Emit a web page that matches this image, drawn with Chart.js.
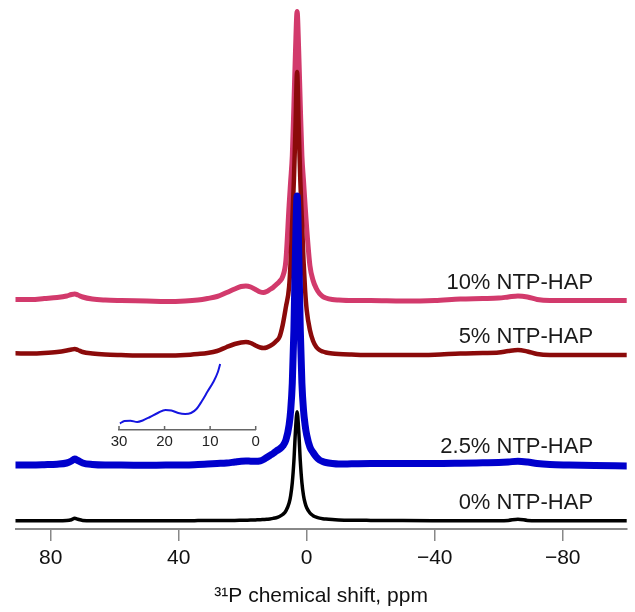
<!DOCTYPE html>
<html><head><meta charset="utf-8">
<script src="https://cdn.jsdelivr.net/npm/chart.js@4.4.1/dist/chart.umd.min.js"></script>
<style>
html,body{margin:0;padding:0;background:#fff;}
#wrap{position:relative;width:635px;height:612px;background:#fff;}
#main{position:absolute;left:0;top:0;}
#inset{position:absolute;left:95px;top:345px;}
</style></head><body>
<div id="wrap"><canvas id="main" width="635" height="612"></canvas><canvas id="inset" width="180" height="110"></canvas></div>
<script>
// chemical shift grid (ppm)
const ppm = [91, 86, 82, 78, 75, 73.5, 72.5, 71.5, 70, 67, 63, 58, 50, 44, 38, 34, 31, 28, 25, 22.5, 20.5, 19, 17.5, 16, 14.5, 13.5, 12.5, 11.5, 10.5, 9.5, 8.5, 7.5, 6.5, 5.5, 5, 4.5, 4, 3.5, 3, 2.5, 2, 1.5, 1, 0.5, 0, -1, -2, -3, -4, -5, -6, -8, -10, -14, -20, -30, -40, -48, -55, -60, -63, -66, -69, -72, -76, -82, -90, -100];
// intensities (above each trace's own baseline)
const hap0 = [0, 0, 0, 0, 0.2, 1.0, 2.4, 1.4, 0.3, 0, 0, 0, 0, 0, 0, 0.1, 0.2, 0.2, 0.3, 0.3, 0.4, 0.5, 0.6, 0.8, 1.0, 1.2, 1.4, 1.8, 2.3, 3.0, 4.2, 6.2, 9.8, 17.7, 25.3, 38.1, 59.7, 90.3, 109, 90.3, 59.7, 38.1, 25.3, 17.7, 12.9, 7.7, 5.0, 3.5, 2.6, 2.0, 1.6, 1.1, 0.8, 0.5, 0.3, 0.1, 0, 0, 0, 0, 0.3, 1.5, 0.3, 0, 0, 0, 0, 0];
const hap2_5 = [0, 0, 0.3, 0.8, 2, 4, 6, 4.5, 2, 0.5, 0, 0, -0.3, 0, 0, 0.5, 1, 1.5, 2, 3, 3.8, 4, 3.8, 3.7, 4.2, 5.5, 7.5, 9.5, 11.5, 14, 16, 19, 25, 40, 55, 82, 135, 215, 269, 215, 135, 82, 55, 40, 30, 18, 12.5, 8, 5, 3.5, 2.5, 1.5, 1, 1.2, 1.5, 1.5, 1.5, 1.8, 2.2, 2.5, 3, 3.8, 3, 1.5, 0.5, 0, -0.5, -1];
const hap5 = [1.7, 1.5, 2, 3, 4.5, 5.5, 6, 5, 3, 1.5, 0.5, 0, -0.5, -0.5, 0, 1, 2, 4, 8, 11, 12.5, 13, 12, 9.5, 7.5, 7, 7.5, 9, 11, 14, 18, 30, 48, 68, 95, 135, 175, 228, 283, 228, 175, 135, 95, 65, 45, 25, 14, 8, 5, 3.5, 2.5, 1.5, 1, 0.5, 0, 0, 0.3, 1.5, 2, 2.5, 4, 5, 3.5, 1, 0, 0, 0, 0];
const hap10 = [1, 1, 2, 3, 4.5, 6, 6.5, 5.5, 3.5, 1.5, 0.5, 0, -0.5, -1, -0.5, 0.5, 2, 4, 8, 11.5, 14, 14.5, 13.5, 11, 8.5, 8, 9, 11, 13, 16, 19, 24, 40, 95, 120, 145, 195, 250, 289, 250, 195, 145, 120, 95, 72, 35, 20, 12, 7, 4, 2.5, 1, 0.5, 0, 0, -0.5, 0, 1.5, 2, 2.5, 3.5, 4.5, 3.5, 1, 0, 0, 0, 0];
const traceOffsets = [0, 55.7, 165.7, 220.2];
const seriesLabels = ['0% NTP-HAP', '2.5% NTP-HAP', '5% NTP-HAP', '10% NTP-HAP'];
const seriesColors = ['#000000', '#0000CC', '#8B0A0A', '#D23A6C'];
const xTickValues = [80, 40, 0, -40, -80];
// inset: magnified 2.5% trace, 30-8 ppm
const insetPpm = [29.8, 28.8, 27.5, 26, 24.8, 23.2, 21.5, 19.8, 18.5, 17, 15.5, 14.2, 13, 11.8, 10.5, 9.3, 8.3, 7.8];
const insetVals = [6.5, 9, 9.3, 8, 9.5, 13, 17, 20, 19.5, 17, 16, 17, 21, 29, 39, 48, 58, 66];
const insetTickValues = [30, 20, 10, 0];

const FONT = '"Liberation Sans", Arial, Helvetica, sans-serif';
const traces = [hap0, hap2_5, hap5, hap10];
const widths = [3.5, 7, 4.5, 5];

const datasets = traces.map((arr, i) => ({
  label: seriesLabels[i],
  data: ppm.map((p, k) => ({x: p, y: arr[k] + traceOffsets[i]})),
  borderColor: seriesColors[i],
  borderWidth: widths[i],
  pointRadius: 0,
  fill: false,
  cubicInterpolationMode: 'monotone',
  borderJoinStyle: 'round',
  borderCapStyle: 'round'
}));

const labelPlugin = {
  id: 'traceLabels',
  afterDatasetsDraw(chart) {
    const {ctx, scales: {x, y}} = chart;
    ctx.save();
    ctx.font = '22px ' + FONT;
    ctx.fillStyle = '#1a1a1a';
    ctx.textAlign = 'right';
    ctx.textBaseline = 'alphabetic';
    seriesLabels.forEach((t, i) => {
      ctx.fillText(t, x.getPixelForValue(-89.5), y.getPixelForValue(traceOffsets[i] + 12));
    });
    ctx.restore();
  }
};

new Chart(document.getElementById('main'), {
  type: 'line',
  data: {datasets},
  plugins: [labelPlugin],
  options: {
    responsive: false,
    animation: false,
    devicePixelRatio: 1,
    layout: {padding: {left: 15.5, right: 8.3, top: 0, bottom: 0}},
    plugins: {legend: {display: false}, tooltip: {enabled: false}},
    scales: {
      x: {
        type: 'linear', min: -100, max: 91, reverse: true,
        afterBuildTicks: s => { s.ticks = xTickValues.map(v => ({value: v})); },
        afterFit: s => { s.height = 83; },
        grid: {drawOnChartArea: false, drawTicks: true, tickLength: 12, color: '#888', lineWidth: 1.5},
        border: {display: true, color: '#888', width: 2},
        ticks: {padding: 5, color: '#111', font: {family: FONT, size: 21},
                callback: v => String(v).replace('-', '\u2212'), maxRotation: 0},
        title: {display: true, text: '\u00B3\u00B9P chemical shift, ppm', color: '#111',
                font: {family: FONT, size: 21}, padding: {top: 4, bottom: 3}}
      },
      y: {type: 'linear', display: false, min: -8.3, max: 520.7}
    }
  }
});

const insetTickPlugin = {
  id: 'insetTicks',
  afterDraw(chart) {
    const {ctx, scales: {x}, chartArea} = chart;
    ctx.save();
    ctx.strokeStyle = '#666';
    ctx.lineWidth = 1.5;
    insetTickValues.forEach(v => {
      const px = x.getPixelForValue(v);
      ctx.beginPath();
      ctx.moveTo(px, chartArea.bottom);
      ctx.lineTo(px, chartArea.bottom - 4);
      ctx.stroke();
    });
    ctx.restore();
  }
};

new Chart(document.getElementById('inset'), {
  type: 'line',
  data: {datasets: [{
    data: insetPpm.map((p, k) => ({x: p, y: insetVals[k]})),
    borderColor: '#1515E0', borderWidth: 2, pointRadius: 0, fill: false,
    cubicInterpolationMode: 'monotone'
  }]},
  plugins: [insetTickPlugin],
  options: {
    responsive: false, animation: false, devicePixelRatio: 1,
    layout: {padding: {left: 24, right: 19.3, top: 10, bottom: 0}},
    plugins: {legend: {display: false}, tooltip: {enabled: false}},
    scales: {
      x: {
        type: 'linear', min: 0, max: 30, reverse: true,
        afterBuildTicks: s => { s.ticks = insetTickValues.map(v => ({value: v})); },
        afterFit: s => { s.height = 25; },
        grid: {drawOnChartArea: false, drawTicks: false},
        border: {display: true, color: '#666', width: 1.5},
        ticks: {padding: 3, color: '#222', font: {family: FONT, size: 15}, maxRotation: 0}
      },
      y: {type: 'linear', display: false, min: 0, max: 75}
    }
  }
});
</script>
</body></html>
